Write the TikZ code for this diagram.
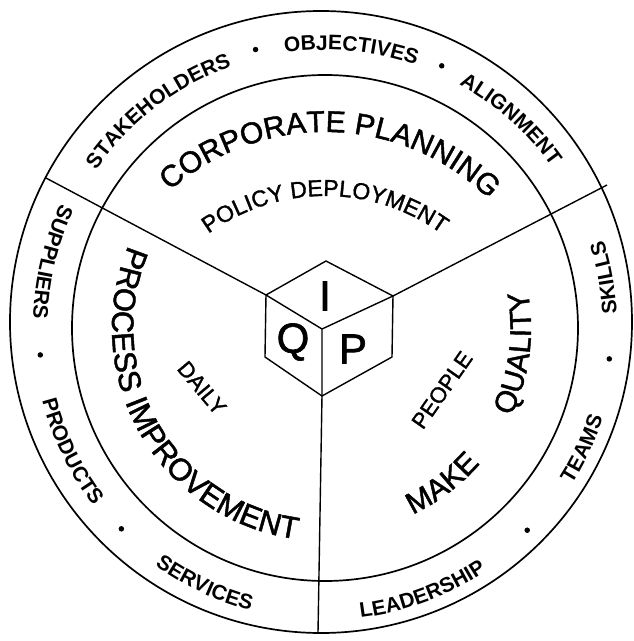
\documentclass[tikz,border=0pt]{standalone}
\usepackage{fontspec}
\setmainfont{Liberation Sans}
\newfontfamily\inkfont{Liberation Sans}[FakeBold=1.5]
\usetikzlibrary{decorations.text}

% type sizes
\newcommand\ringfont{\fontsize{21}{21}\selectfont\bfseries}
\newcommand\bigfont{\inkfont\fontsize{30}{30}\selectfont}
\newcommand\procfont{\inkfont\fontsize{31}{31}\selectfont}
\newcommand\midfont{\inkfont\fontsize{23}{23}\selectfont}
\newcommand\smallfont{\inkfont\fontsize{22}{22}\selectfont}
\newcommand\cubefont{\inkfont\fontsize{42}{42}\selectfont}

% word set on an arc, centred on an angle
% #1 arc centre, #2 baseline radius, #3 centre angle, #4 font, #5 text
% clockwise: reads over the top, letters point outwards
\newcommand\cwarc[5]{%
  \path[shift={(#1)},decorate,decoration={text along path,text align=center,text={|#4|#5}}]
    ({#3+70}:#2pt) arc[start angle={#3+70},end angle={#3-70},radius=#2pt];}
% counter-clockwise: letters point to the centre
\newcommand\ccwarc[5]{%
  \path[shift={(#1)},decorate,decoration={text along path,text align=center,text={|#4|#5}}]
    ({#3-70}:#2pt) arc[start angle={#3-70},end angle={#3+70},radius=#2pt];}

\tikzset{
  ring/.style={line width=1.7pt},
  edge/.style={line width=1.4pt, line join=round},
  dot/.style={fill=black, circle, inner sep=0pt, minimum size=5.5pt},
  cubeletter/.style={font=\cubefont, inner sep=0pt},
  smallword/.style={font=\smallfont, inner sep=0pt},
}

\begin{document}
\begin{tikzpicture}[x=1pt,y=1pt]
  \useasboundingbox (-325,-313) rectangle (308,328);
  \fill[white] (-325,-313) rectangle (308,328);

  % centres of the two circles
  \coordinate (O) at (-4,6);
  \coordinate (C) at (0,0);

  \draw[ring] (O) circle[radius=311pt];
  \draw[ring] (C) circle[radius=253pt];

  % cube corners
  \coordinate (ct)  at (1,67);
  \coordinate (cul) at (-59,33);
  \coordinate (cll) at (-60,-29);
  \coordinate (cb)  at (-3,-68);
  \coordinate (clr) at (67,-29);
  \coordinate (cur) at (68,32);
  \coordinate (cm)  at (-3,-1);

  % outer ends of the three dividers
  \coordinate (dL) at (-279,150);
  \coordinate (dR) at (282,143);
  \coordinate (dB) at (-7,-305);

  \draw[edge] (ct)--(cul)--(cll)--(cb)--(clr)--(cur)--cycle;
  \draw[edge] (cm)--(cul) (cm)--(cur) (cm)--(cb);
  \draw[edge] (cul)--(dL) (cur)--(dR) (cb)--(dB);

  \node[cubeletter] (lI) at (0,32) {I};
  \node[cubeletter] (lQ) at (-32,-14) {Q};
  \node[cubeletter] (lP) at (28,-21) {P};

  % outer ring: top sector
  \cwarc{0,0}{278}{127.5}{\ringfont}{STAKEHOLDERS}
  \cwarc{0,0}{278}{84.6}{\ringfont}{OBJECTIVES}
  \cwarc{0,0}{278}{48.3}{\ringfont}{ALIGNMENT}
  \node[dot] (b1) at (104:287pt) {};
  \node[dot] (b2) at (66:287pt) {};

  % outer ring: left sector
  \ccwarc{0,0}{292}{166.5}{\ringfont}{SUPPLIERS}
  \ccwarc{0,0}{292}{206}{\ringfont}{PRODUCTS}
  \ccwarc{0,0}{292}{244.8}{\ringfont}{SERVICES}
  \node[dot] (b3) at (185.4:286pt) {};
  \node[dot] (b4) at (224.6:286pt) {};

  % outer ring: right sector
  \ccwarc{0,0}{292}{290.3}{\ringfont}{LEADERSHIP}
  \ccwarc{0,0}{292}{334.9}{\ringfont}{TEAMS}
  \ccwarc{0,0}{292}{10.2}{\ringfont}{SKILLS}
  \node[dot] (b5) at (315:286pt) {};
  \node[dot] (b6) at (353.8:286pt) {};

  % inner sectors
  \cwarc{0,-38}{234}{88.5}{\bigfont}{CORPORATE PLANNING}
  \cwarc{0,-67}{199}{90}{\midfont}{POLICY DEPLOYMENT}
  \ccwarc{0,0}{213}{209.8}{\procfont}{PROCESS IMPROVEMENT}
  \ccwarc{0,0}{206}{-53}{\bigfont}{MAKE}
  \ccwarc{0,0}{206}{-7.5}{\bigfont}{QUALITY}

  \node[smallword, rotate=-50] (daily) at (-123,-60) {DAILY};
  \node[smallword, rotate=55] (people) at (117,-62) {PEOPLE};
\end{tikzpicture}
\end{document}
